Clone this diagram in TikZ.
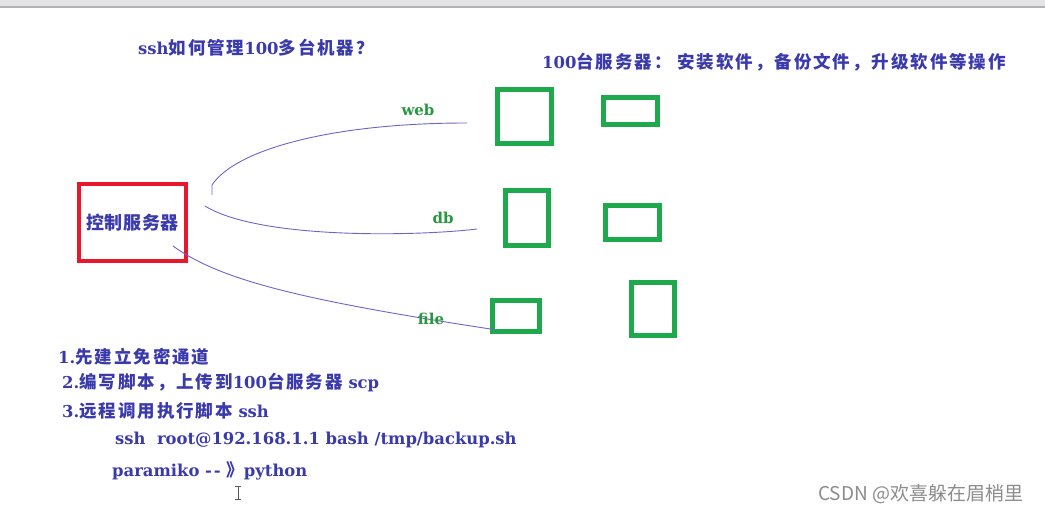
\documentclass[tikz,border=0pt]{standalone}
\usepackage{fontspec}
\setmainfont{DejaVu Serif}
\newfontfamily\cjk{Noto Sans CJK SC}[LetterSpace=11]
\newfontfamily\wmfont{Noto Sans CJK SC}
\newcommand{\zh}[1]{{\cjk\fontsize{17.5}{20}\selectfont #1}}
\definecolor{txtblue}{RGB}{58,58,172}
\definecolor{lblgreen}{RGB}{40,152,62}
\definecolor{boxgreen}{RGB}{30,170,76}
\definecolor{boxred}{RGB}{232,24,44}
\definecolor{linkblue}{RGB}{112,100,204}
\tikzstyle{txt}=[anchor=west,inner sep=0pt,text=txtblue,font=\bfseries\fontsize{16.4}{18}\selectfont]
\tikzstyle{lbl}=[inner sep=0pt,text=lblgreen,font=\bfseries\fontsize{15}{17}\selectfont]
\tikzstyle{gb}=[draw=boxgreen,line width=5pt,inner sep=0pt]
\tikzstyle{rd}=[draw=boxred,line width=4pt,inner sep=0pt]
\tikzstyle{ln}=[draw=linkblue,line width=0.9pt]

\begin{document}
\begin{tikzpicture}[x=1pt,y=-1pt]
\fill[white] (0,0) rectangle (1045,513);
\useasboundingbox (0,0) rectangle (1045,513);
\fill[blue!8!gray!20] (0,0) rectangle (1045,6);
\draw[gray!60,line width=2pt] (0,7) -- (1045,7);
\node[txt] (q) at (138,48) {ssh\zh{如何管理}100\zh{多台机器？}};
\node[txt] (goal) at (542,62) {100\zh{台服务器：\ 安装软件，备份文件，升级软件等操作}};
\node[rd,minimum width=107pt,minimum height=77pt] (ctrl) at (132.5,222.5) {};
\node[text=txtblue,font=\bfseries\fontsize{18}{20}\selectfont] at (ctrl.center) {{\cjk\addfontfeature{LetterSpace=3}控制服务器}};
\node[gb,minimum width=54pt,minimum height=54pt] (web1) at (524.5,116.5) {};
\node[gb,minimum width=54pt,minimum height=27pt] (web2) at (630.5,111) {};
\node[gb,minimum width=43pt,minimum height=55pt] (db1) at (527,218) {};
\node[gb,minimum width=54pt,minimum height=34pt] (db2) at (632.5,222.5) {};
\node[gb,minimum width=47pt,minimum height=31pt] (file1) at (516,316) {};
\node[gb,minimum width=43pt,minimum height=53pt] (file2) at (653,309) {};
\coordinate (w0) at (212,195); \coordinate (w1) at (467,123);
\coordinate (d0) at (205,206); \coordinate (d1) at (477,229);
\coordinate (f0) at (173,246); \coordinate (f1) at (497,330);
\draw[ln] (w0) -- (212,185) .. controls (235,150) and (330,123) .. (w1);
\draw[ln] (d0) .. controls (260,240) and (420,236) .. (d1);
\draw[ln] (f0) .. controls (220,280) and (300,300) .. (f1);
\node[lbl] (web) at (418,110) {web};
\node[lbl] (db) at (443,218) {db};
\node[lbl] (file) at (431,319) {file};
\node[txt] (s1) at (58,357) {1.\zh{先建立免密通道}};
\node[txt] (s2) at (62,383) {2.\zh{编写脚本，上传到}100\zh{台服务器} scp};
\node[txt] (s3) at (62,411) {3.\zh{远程调用执行脚本} ssh};
\node[txt] (cmd) at (115,440) {ssh\ \ root@192.168.1.1 bash /tmp/backup.sh};
\node[txt] (py) at (112,471) {paramiko -\kern2pt- \zh{》}python};
\draw[gray!70!black,line width=1pt] (238,486) -- (238,499) (235,486) -- (241,486) (235,499) -- (241,499);
\node[anchor=west,inner sep=0pt,text=gray!90,font=\wmfont\fontsize{19}{21}\selectfont] (wm) at (818,494) {CSDN @欢喜躲在眉梢里};
\end{tikzpicture}
\end{document}
